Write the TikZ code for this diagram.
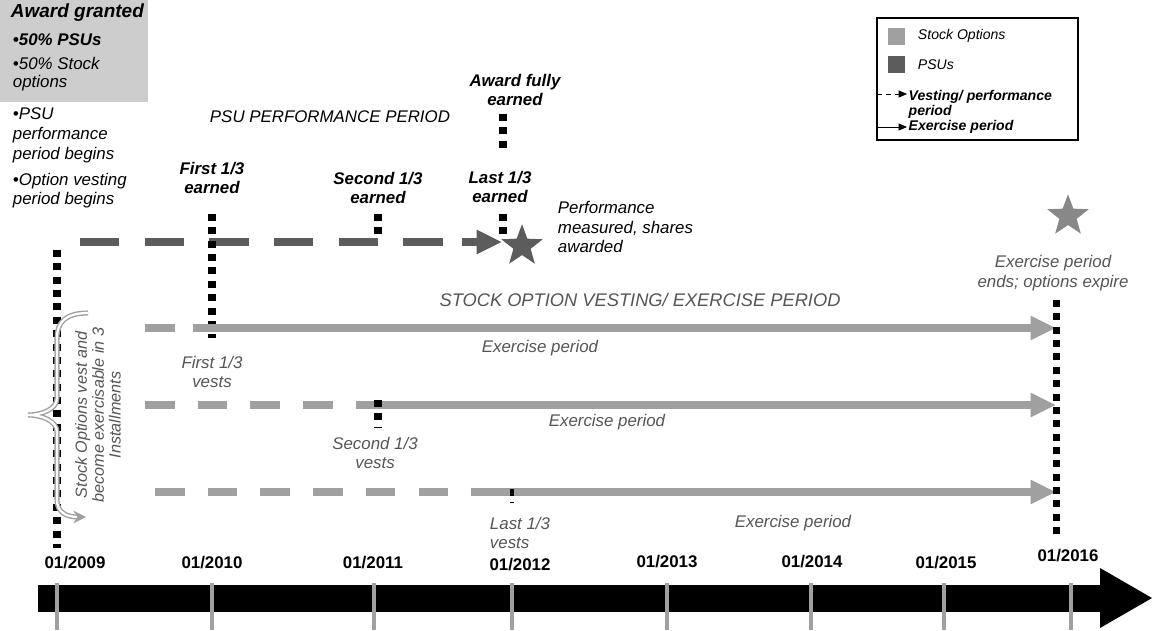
\documentclass[tikz,border=0pt]{standalone}
\usepackage{fontspec}
\setmainfont{Liberation Sans}
\usetikzlibrary{arrows.meta,shapes.geometric}
\definecolor{psugray}{HTML}{5C5C5C}
\definecolor{optgray}{HTML}{A0A0A0}
\definecolor{boxgray}{HTML}{CDCDCD}
\definecolor{labgray}{HTML}{555555}

\begin{document}
\begin{tikzpicture}[x=0.025cm,y=-0.025cm,font=\fontsize{12}{14}\selectfont\itshape,
  psuline/.style={psugray,line width=5.5pt,dash pattern=on 28pt off 18pt},
  optdash/.style={optgray,line width=5.5pt,dash pattern=on 21pt off 16.5pt},
  optline/.style={optgray,line width=5.5pt,-{Triangle[length=18pt,width=16pt]}},
  dotline/.style={black,line width=5pt,dash pattern=on 5pt off 4.5pt},
  yrtick/.style={optgray,line width=3pt},
  blab/.style={align=center,font=\fontsize{12}{14}\selectfont\bfseries\itshape},
  glab/.style={align=center,text=labgray},
  starmark/.style={star,star points=5,star point ratio=2.4,inner sep=0pt,minimum size=31pt}]
\useasboundingbox (0,0) rectangle (1154,630);

% award box
\fill[boxgray] (0,0) rectangle (148,102);
\node[anchor=west,font=\fontsize{13.5}{15}\selectfont\bfseries\itshape] (award) at (6,13) {Award granted};
\node[anchor=west,font=\fontsize{12}{14}\selectfont\bfseries\itshape] (psuhalf) at (8,40) {•50\% PSUs};
\node[anchor=north west,align=left,font=\fontsize{12}{13}\selectfont\itshape] (opthalf) at (8,52) {•50\% Stock\\options};
\node[anchor=north west,align=left] (psubegin) at (8,103) {•PSU\\performance\\period begins};
\node[anchor=north west,align=left] (optbegin) at (8,168) {•Option vesting\\period begins};

% PSU performance period
\node (psutitle) at (330,117) {PSU PERFORMANCE PERIOD};
\node[blab] (first) at (212,178) {First 1/3\\earned};
\node[blab] (second) at (378,188) {Second 1/3\\earned};
\node[blab] (fully) at (515,90) {Award fully\\earned};
\node[blab] (last) at (500,187) {Last 1/3\\earned};
\node[anchor=west,align=left] (measured) at (553,227) {Performance\\measured, shares\\awarded};
\node[starmark,fill=psugray] (psustar) at (522,246) {};
\coordinate (psu0) at (80,242);
\coordinate (psu1) at (462,242);
\coordinate (psu2) at (502,242);
\draw[psuline] (psu0) -- (psu1);
\draw[psugray,line width=5.5pt,-{Triangle[length=18pt,width=16pt]}] (psu1) -- (psu2);
\draw[dotline] (212,214) -- (212,338);
\draw[dotline] (378,214) -- (378,240);
\draw[dotline] (503,114) -- (503,150);
\draw[dotline] (503,214) -- (503,238);

% stock option rows
\node[glab,font=\fontsize{13}{15}\selectfont\itshape] (opttitle) at (640,300) {STOCK OPTION VESTING/ EXERCISE PERIOD};
\coordinate (r1s) at (145,328);
\coordinate (r1v) at (193,328);
\coordinate (r1e) at (1056,328);
\coordinate (r2s) at (145,405);
\coordinate (r2v) at (375,405);
\coordinate (r2e) at (1056,405);
\coordinate (r3s) at (155,492);
\coordinate (r3v) at (480,492);
\coordinate (r3e) at (1056,492);
\draw[optdash] (r1s) -- (r1v);
\draw[optline] (r1v) -- (r1e);
\draw[optdash] (r2s) -- (r2v);
\draw[optline] (r2v) -- (r2e);
\draw[optdash] (r3s) -- (r3v);
\draw[optline] (r3v) -- (r3e);
\draw[dotline] (378,400) -- (378,428);
\draw[dotline,line width=3.5pt] (512,489) -- (512,503);
\node[glab] (ex1) at (540,348) {Exercise period};
\node[glab] (ex2) at (607,422) {Exercise period};
\node[glab] (ex3) at (793,523) {Exercise period};
\node[glab] (v1) at (212,372) {First 1/3\\vests};
\node[glab] (v2) at (375,453) {Second 1/3\\vests};
\node[glab,align=left] (v3) at (520,533) {Last 1/3\\vests};

% expiry
\node[starmark,fill=optgray!85!black] (endstar) at (1068,216) {};
\node[glab] (expire) at (1053,273) {Exercise period\\ends; options expire};
\draw[dotline] (57,250) -- (57,548);
\draw[dotline] (1056,300) -- (1056,535);

% brace
\draw[optgray,double=white,line width=1pt,double distance=1.6pt,-{Stealth[length=9pt,width=9pt]}]
  (88,313) .. controls (66,313) and (57,322) .. (57,338) -- (57,398)
  .. controls (57,409) and (42,415) .. (28,415)
  .. controls (42,415) and (57,421) .. (57,432) -- (57,500)
  .. controls (57,512) and (66,517) .. (86,517);
\node[glab,rotate=90,font=\fontsize{11.5}{12}\selectfont\itshape] (brace) at (98,415) {Stock Options vest and\\become exercisable in 3\\Installments};

% legend
\draw[line width=0.8pt] (877,18) rectangle (1078,140);
\fill[optgray] (888,28) rectangle (905,45);
\fill[psugray] (888,56) rectangle (905,73);
\node[anchor=west,font=\fontsize{10}{12}\selectfont\itshape] (lgopt) at (913,36) {Stock Options};
\node[anchor=west,font=\fontsize{10}{12}\selectfont\itshape] (lgpsu) at (913,65) {PSUs};
\node[anchor=north west,align=left,inner xsep=1pt,font=\fontsize{10}{11}\selectfont\bfseries\itshape] (lgvest) at (907,85) {Vesting/ performance\\period};
\node[anchor=west,inner xsep=1pt,font=\fontsize{10}{12}\selectfont\bfseries\itshape] (lgex) at (907,127) {Exercise period};
\draw[dashed,line width=0.6pt,-{Triangle[length=6pt,width=5pt]}] (878,94) -- (lgvest.north west |- 878,94);
\draw[line width=0.6pt,-{Triangle[length=6pt,width=5pt]}] (878,127) -- (lgex.west);

% timeline
\fill[black] (38,585) rectangle (1100,612);
\fill[black] (1100,568) -- (1152,598) -- (1100,628) -- cycle;
\foreach \tx/\lx/\ly/\yr in {57/75/563/2009,212/212/563/2010,374/373/563/2011,512/520/565/2012,667/667/562/2013,811/812/562/2014,944/946/563/2015,1071/1068/556/2016}{
  \draw[yrtick] (\tx,583) -- (\tx,630);
  \node[font=\fontsize{12}{14}\selectfont\bfseries] (y\yr) at (\lx,\ly) {01/\yr};
}
\end{tikzpicture}
\end{document}
